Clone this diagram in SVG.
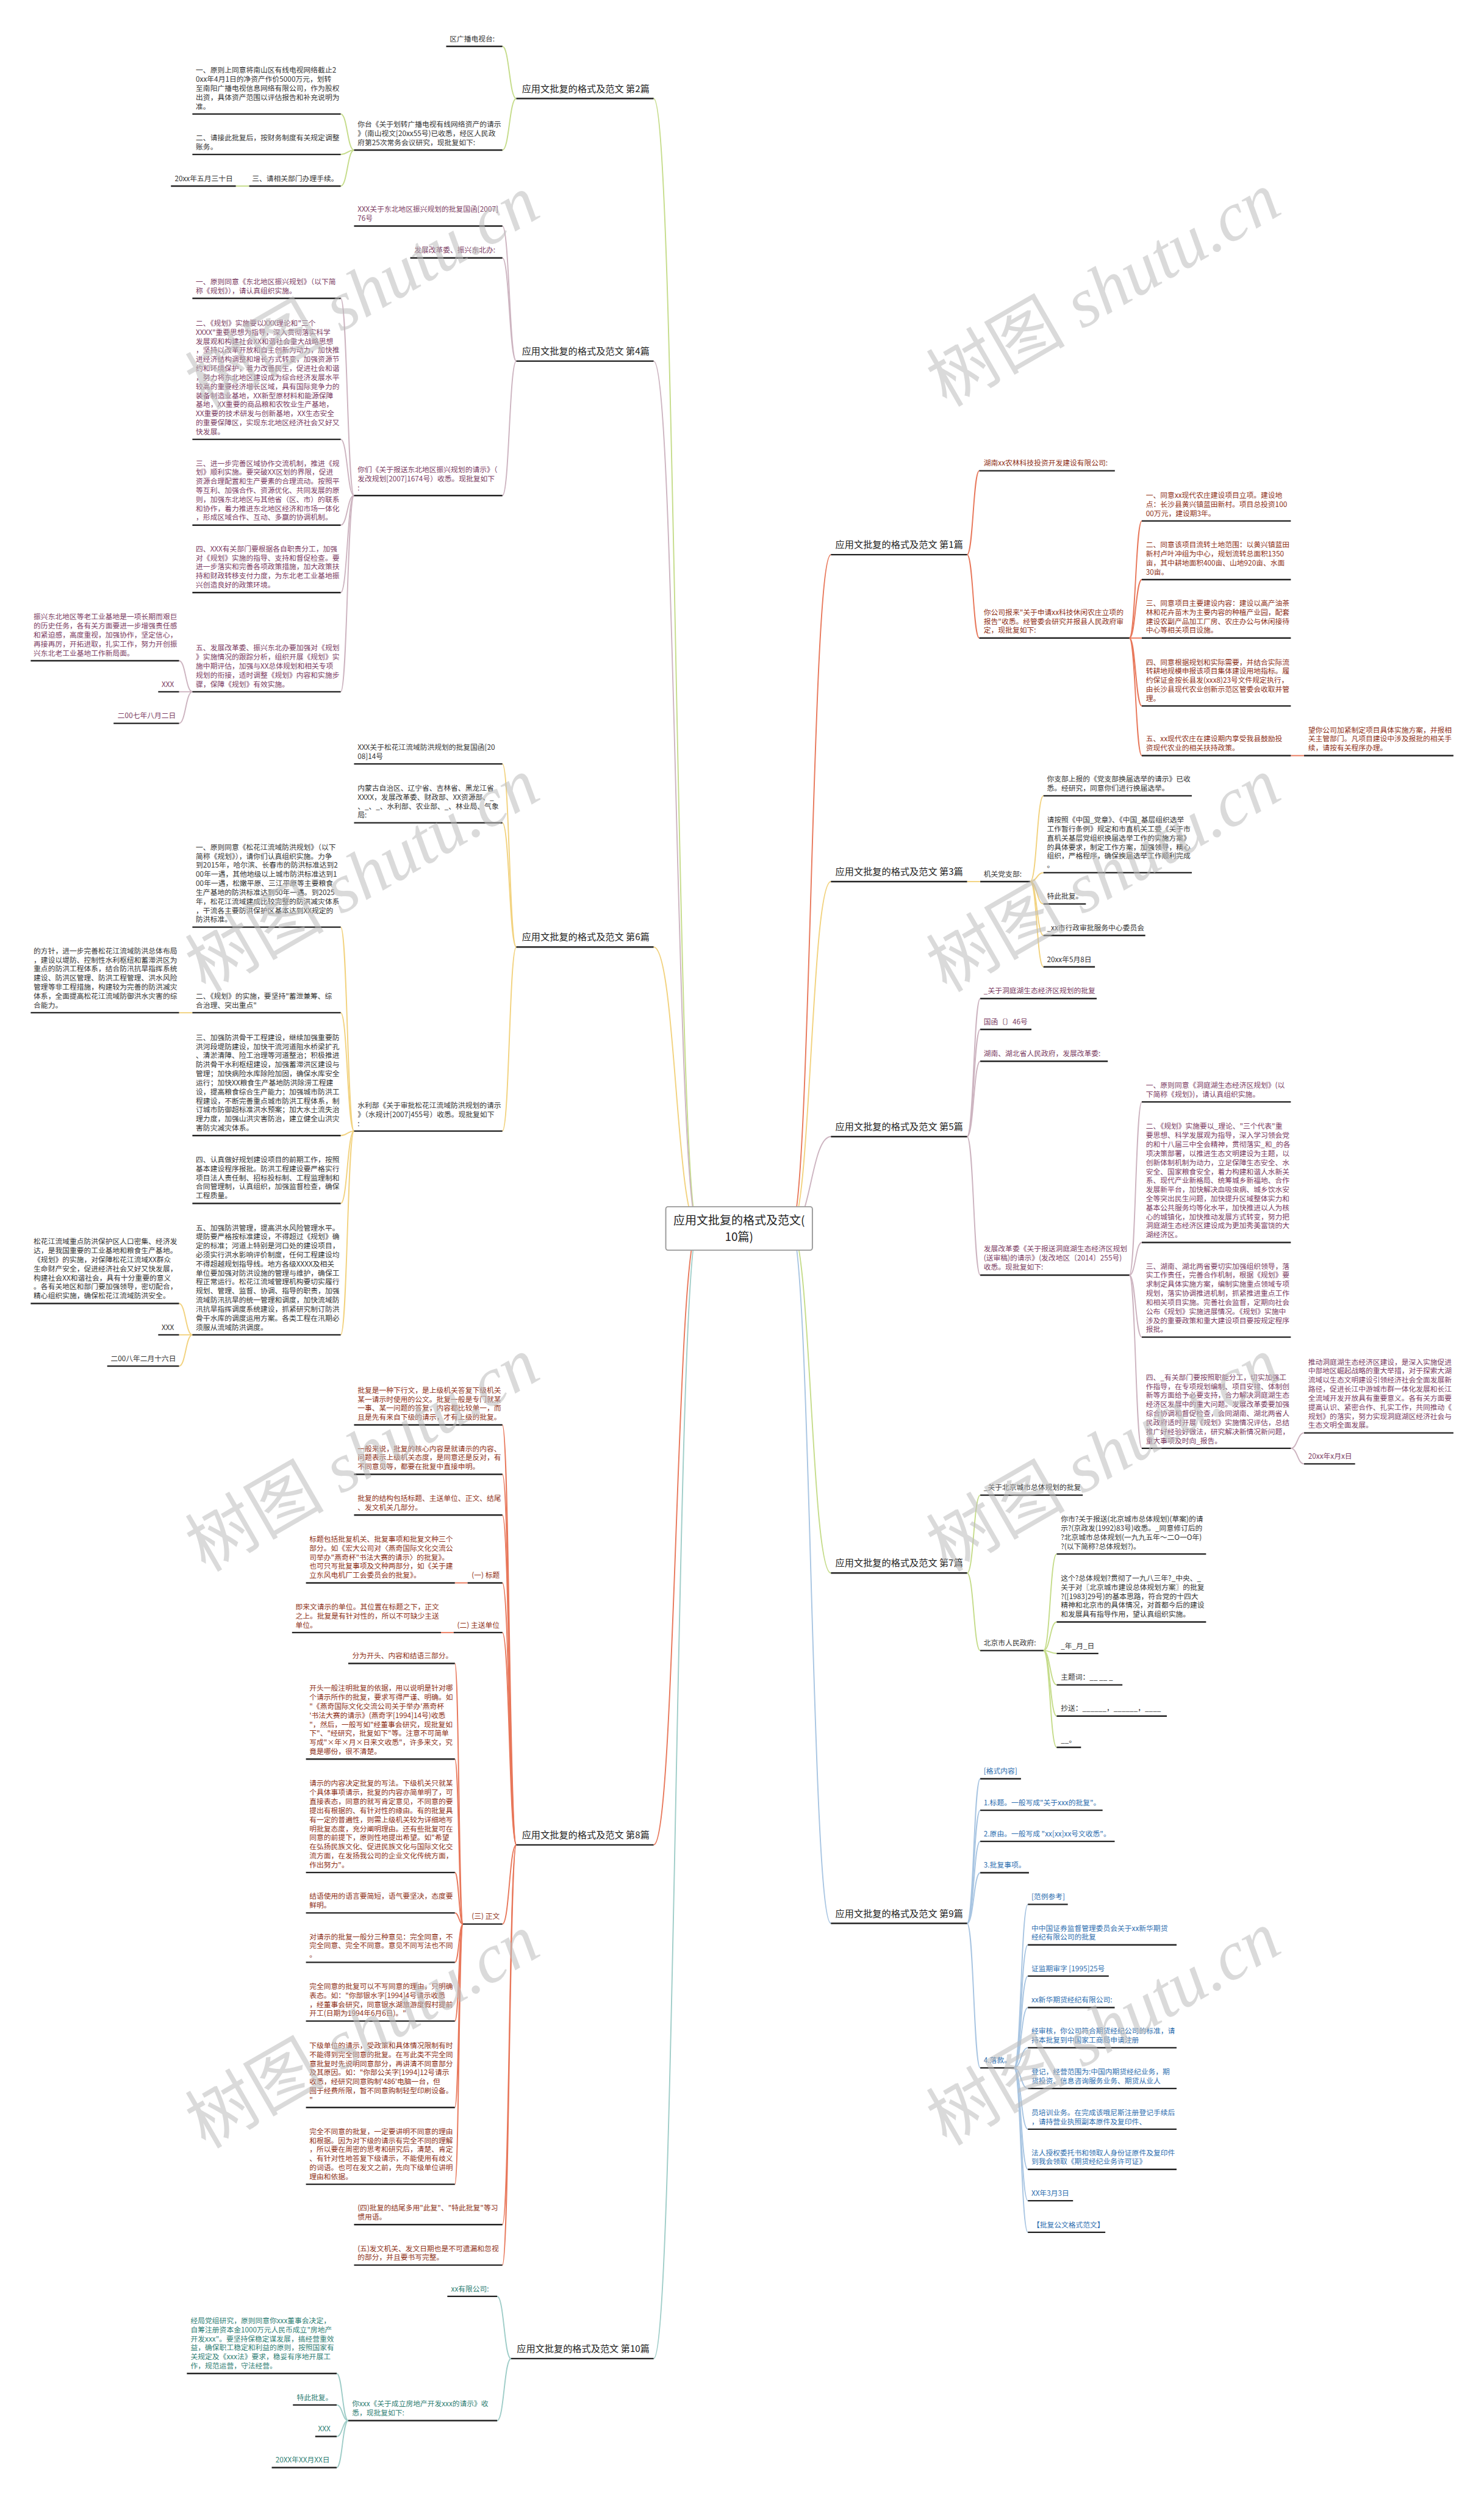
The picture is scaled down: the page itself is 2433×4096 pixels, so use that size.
<svg xmlns="http://www.w3.org/2000/svg" width="2433" height="4096" viewBox="0 0 2433 4096">
<style>
text{font-family:"Noto Sans CJK SC","Noto Sans",sans-serif;font-size:12.4px;fill:#333}
.lbl{font-size:16px;fill:#222}
.ctr{font-size:20px;fill:#222}
.u{stroke:#222;stroke-width:2.5}
.cp{fill:#7b3b62}.cr{fill:#8e2f16}.ct{fill:#2f8074}.cb{fill:#2d6eaf}
.k2{fill:none;stroke:#c5dc8a;stroke-width:2}
.k4{fill:none;stroke:#cdb4c0;stroke-width:2}
.k6{fill:none;stroke:#f2d27e;stroke-width:2}
.k8{fill:none;stroke:#e8775a;stroke-width:2}
.k10{fill:none;stroke:#9fcdc8;stroke-width:2}
.k9{fill:none;stroke:#a8c5e2;stroke-width:2}
.wm{font-size:120px;fill:#bdbdbd;opacity:0.55}
.wm tspan.e{font-family:"Liberation Serif",serif;font-style:italic}
</style>
<rect width="2433" height="4096" fill="#fff"/>
<g transform="scale(0.95)">
<g id="connectors">
<path class="k2" d="M1205 2118 C1166.5 2118 1166.5 170 1128 170"/>
<path class="k4" d="M1205 2118 C1166.5 2118 1166.5 623 1128 623"/>
<path class="k6" d="M1205 2118 C1166.5 2118 1166.5 1634 1128 1634"/>
<path class="k8" d="M1205 2118 C1166.5 2118 1166.5 3183 1128 3183"/>
<path class="k10" d="M1205 2118 C1166.5 2118 1166.5 4069.4 1128 4069.4"/>
<path class="k8" d="M1365 2118 C1399.5 2118 1399.5 957 1434 957"/>
<path class="k6" d="M1365 2118 C1399.5 2118 1399.5 1521 1434 1521"/>
<path class="k4" d="M1365 2118 C1399.5 2118 1399.5 1961 1434 1961"/>
<path class="k2" d="M1365 2118 C1399.5 2118 1399.5 2714 1434 2714"/>
<path class="k9" d="M1365 2118 C1399.5 2118 1399.5 3318.4 1434 3318.4"/>
<!-- 2 -->
<path class="k2" d="M891 170 C879 170 879 80 867 80"/>
<path class="k2" d="M891 170 C879 170 879 259 867 259"/>
<path class="k2" d="M611 259 C599.5 259 599.5 196.7 588 196.7"/>
<path class="k2" d="M611 259 C599.5 259 599.5 266.5 588 266.5"/>
<path class="k2" d="M611 259 C599.5 259 599.5 321 588 321"/>
<path class="k2" d="M430 321 L407 321"/>
<!-- 4 -->
<path class="k4" d="M891 623 C879 623 879 390 867 390"/>
<path class="k4" d="M891 623 C879 623 879 445 867 445"/>
<path class="k4" d="M891 623 C879 623 879 855 867 855"/>
<path class="k4" d="M611 855 C599.5 855 599.5 514.7 588 514.7"/>
<path class="k4" d="M611 855 C599.5 855 599.5 758 588 758"/>
<path class="k4" d="M611 855 C599.5 855 599.5 906 588 906"/>
<path class="k4" d="M611 855 C599.5 855 599.5 1022.4 588 1022.4"/>
<path class="k4" d="M611 855 C599.5 855 599.5 1193.5 588 1193.5"/>
<path class="k4" d="M332 1193.5 C320.5 1193.5 320.5 1140 309 1140"/>
<path class="k4" d="M332 1193.5 L309 1193.5"/>
<path class="k4" d="M332 1193.5 C320.5 1193.5 320.5 1248 309 1248"/>
<!-- 6 -->
<path class="k6" d="M891 1634 C879 1634 879 1318 867 1318"/>
<path class="k6" d="M891 1634 C879 1634 879 1419.6 867 1419.6"/>
<path class="k6" d="M891 1634 C879 1634 879 1951.4 867 1951.4"/>
<path class="k6" d="M611 1951.4 C599.5 1951.4 599.5 1599.6 588 1599.6"/>
<path class="k6" d="M611 1951.4 C599.5 1951.4 599.5 1747.3 588 1747.3"/>
<path class="k6" d="M611 1951.4 C599.5 1951.4 599.5 1959.2 588 1959.2"/>
<path class="k6" d="M611 1951.4 C599.5 1951.4 599.5 2076.3 588 2076.3"/>
<path class="k6" d="M611 1951.4 C599.5 1951.4 599.5 2303 588 2303"/>
<path class="k6" d="M332 1747.3 L309 1747.3"/>
<path class="k6" d="M332 2303 C320.5 2303 320.5 2249 309 2249"/>
<path class="k6" d="M332 2303 L309 2303"/>
<path class="k6" d="M332 2303 C320.5 2303 320.5 2357 309 2357"/>
<!-- 8 -->
<path class="k8" d="M891 3183 C879 3183 879 2458.4 867 2458.4"/>
<path class="k8" d="M891 3183 C879 3183 879 2543.7 867 2543.7"/>
<path class="k8" d="M891 3183 C879 3183 879 2613.9 867 2613.9"/>
<path class="k8" d="M891 3183 C879 3183 879 2731 867 2731"/>
<path class="k8" d="M891 3183 C879 3183 879 2816.7 867 2816.7"/>
<path class="k8" d="M891 3183 C879 3183 879 3319.6 867 3319.6"/>
<path class="k8" d="M891 3183 C879 3183 879 3838.2 867 3838.2"/>
<path class="k8" d="M891 3183 C879 3183 879 3908 867 3908"/>
<path class="k8" d="M807 2731 L785 2731"/>
<path class="k8" d="M783 2816.7 L761 2816.7"/>
<path class="k8" d="M799 3319.6 C792 3319.6 792 2870 785 2870"/>
<path class="k8" d="M799 3319.6 C792 3319.6 792 3035 785 3035"/>
<path class="k8" d="M799 3319.6 C792 3319.6 792 3230.6 785 3230.6"/>
<path class="k8" d="M799 3319.6 C792 3319.6 792 3300.4 785 3300.4"/>
<path class="k8" d="M799 3319.6 C792 3319.6 792 3385.7 785 3385.7"/>
<path class="k8" d="M799 3319.6 C792 3319.6 792 3487 785 3487"/>
<path class="k8" d="M799 3319.6 C792 3319.6 792 3636 785 3636"/>
<path class="k8" d="M799 3319.6 C792 3319.6 792 3768.6 785 3768.6"/>
<!-- 10 -->
<path class="k10" d="M882 4069.4 C870 4069.4 870 3962 858 3962"/>
<path class="k10" d="M882 4069.4 C870 4069.4 870 4176.3 858 4176.3"/>
<path class="k10" d="M601 4176.3 C591 4176.3 591 4095 581 4095"/>
<path class="k10" d="M601 4176.3 C591 4176.3 591 4149.3 581 4149.3"/>
<path class="k10" d="M601 4176.3 C591 4176.3 591 4203.7 581 4203.7"/>
<path class="k10" d="M601 4176.3 C591 4176.3 591 4257.4 581 4257.4"/>
<!-- 1 -->
<path class="k8" d="M1669 957 C1679.5 957 1679.5 812.2 1690 812.2"/>
<path class="k8" d="M1669 957 C1679.5 957 1679.5 1100.8 1690 1100.8"/>
<path class="k8" d="M1949 1100.8 C1959.8 1100.8 1959.8 898.8 1970.5 898.8"/>
<path class="k8" d="M1949 1100.8 C1959.8 1100.8 1959.8 1000 1970.5 1000"/>
<path class="k8" d="M1949 1100.8 L1970.5 1100.8"/>
<path class="k8" d="M1949 1100.8 C1959.8 1100.8 1959.8 1218 1970.5 1218"/>
<path class="k8" d="M1949 1100.8 C1959.8 1100.8 1959.8 1303.7 1970.5 1303.7"/>
<path class="k8" d="M2227.7 1303.7 L2250.5 1303.7"/>
<!-- 3 -->
<path class="k6" d="M1669 1521 L1691.7 1521"/>
<path class="k6" d="M1778 1521 C1789.4 1521 1789.4 1373 1800.8 1373"/>
<path class="k6" d="M1778 1521 C1789.4 1521 1789.4 1505.7 1800.8 1505.7"/>
<path class="k6" d="M1778 1521 C1789.4 1521 1789.4 1559.6 1800.8 1559.6"/>
<path class="k6" d="M1778 1521 C1789.4 1521 1789.4 1613.9 1800.8 1613.9"/>
<path class="k6" d="M1778 1521 C1789.4 1521 1789.4 1668.2 1800.8 1668.2"/>
<!-- 5 -->
<path class="k4" d="M1669 1961 C1680.4 1961 1680.4 1722.9 1691.7 1722.9"/>
<path class="k4" d="M1669 1961 C1680.4 1961 1680.4 1776 1691.7 1776"/>
<path class="k4" d="M1669 1961 C1680.4 1961 1680.4 1831 1691.7 1831"/>
<path class="k4" d="M1669 1961 C1680.4 1961 1680.4 2200 1691.7 2200"/>
<path class="k4" d="M1949 2200 C1959.8 2200 1959.8 1901.2 1970.5 1901.2"/>
<path class="k4" d="M1949 2200 C1959.8 2200 1959.8 2143.7 1970.5 2143.7"/>
<path class="k4" d="M1949 2200 C1959.8 2200 1959.8 2307 1970.5 2307"/>
<path class="k4" d="M1949 2200 C1959.8 2200 1959.8 2498.8 1970.5 2498.8"/>
<path class="k4" d="M2227.7 2498.8 C2239.1 2498.8 2239.1 2472.2 2250.5 2472.2"/>
<path class="k4" d="M2227.7 2498.8 C2239.1 2498.8 2239.1 2525.7 2250.5 2525.7"/>
<!-- 7 -->
<path class="k2" d="M1669 2714 C1680.4 2714 1680.4 2579.6 1691.7 2579.6"/>
<path class="k2" d="M1669 2714 C1680.4 2714 1680.4 2847.8 1691.7 2847.8"/>
<path class="k2" d="M1800.8 2847.8 C1812.2 2847.8 1812.2 2681.2 1823.6 2681.2"/>
<path class="k2" d="M1800.8 2847.8 C1812.2 2847.8 1812.2 2798.4 1823.6 2798.4"/>
<path class="k2" d="M1800.8 2847.8 C1812.2 2847.8 1812.2 2852.7 1823.6 2852.7"/>
<path class="k2" d="M1800.8 2847.8 C1812.2 2847.8 1812.2 2907 1823.6 2907"/>
<path class="k2" d="M1800.8 2847.8 C1812.2 2847.8 1812.2 2960.8 1823.6 2960.8"/>
<path class="k2" d="M1800.8 2847.8 C1812.2 2847.8 1812.2 3014.7 1823.6 3014.7"/>
<!-- 9 -->
<path class="k9" d="M1669 3318.4 C1680.4 3318.4 1680.4 3069 1691.7 3069"/>
<path class="k9" d="M1669 3318.4 C1680.4 3318.4 1680.4 3123.3 1691.7 3123.3"/>
<path class="k9" d="M1669 3318.4 C1680.4 3318.4 1680.4 3177 1691.7 3177"/>
<path class="k9" d="M1669 3318.4 C1680.4 3318.4 1680.4 3231 1691.7 3231"/>
<path class="k9" d="M1669 3318.4 C1680.4 3318.4 1680.4 3567.8 1691.7 3567.8"/>
<path class="k9" d="M1750 3567.8 C1762 3567.8 1762 3285.7 1773.9 3285.7"/>
<path class="k9" d="M1750 3567.8 C1762 3567.8 1762 3355.5 1773.9 3355.5"/>
<path class="k9" d="M1750 3567.8 C1762 3567.8 1762 3409.4 1773.9 3409.4"/>
<path class="k9" d="M1750 3567.8 C1762 3567.8 1762 3463.7 1773.9 3463.7"/>
<path class="k9" d="M1750 3567.8 C1762 3567.8 1762 3533 1773.9 3533"/>
<path class="k9" d="M1750 3567.8 C1762 3567.8 1762 3603.3 1773.9 3603.3"/>
<path class="k9" d="M1750 3567.8 C1762 3567.8 1762 3673.5 1773.9 3673.5"/>
<path class="k9" d="M1750 3567.8 C1762 3567.8 1762 3742.9 1773.9 3742.9"/>
<path class="k9" d="M1750 3567.8 C1762 3567.8 1762 3797 1773.9 3797"/>
<path class="k9" d="M1750 3567.8 C1762 3567.8 1762 3851.4 1773.9 3851.4"/>
</g>

<g id="center"><rect x="1149" y="2082" width="253" height="75" rx="4" fill="#fff" stroke="#999" stroke-width="2"/>
<text class="ctr" x="1275.5" y="2113" text-anchor="middle">应用文批复的格式及范文(<tspan x="1275.5" dy="28">10篇)</tspan></text></g>

<!-- labels -->
<g id="L2"><text class="lbl" x="1121" y="158.5" text-anchor="end">应用文批复的格式及范文 第2篇</text><line class="u" x1="891" y1="170" x2="1128" y2="170"/></g>
<g id="L4"><text class="lbl" x="1121" y="611.5" text-anchor="end">应用文批复的格式及范文 第4篇</text><line class="u" x1="891" y1="623" x2="1128" y2="623"/></g>
<g id="L6"><text class="lbl" x="1121" y="1622.5" text-anchor="end">应用文批复的格式及范文 第6篇</text><line class="u" x1="891" y1="1634" x2="1128" y2="1634"/></g>
<g id="L8"><text class="lbl" x="1121" y="3171.5" text-anchor="end">应用文批复的格式及范文 第8篇</text><line class="u" x1="891" y1="3183" x2="1128" y2="3183"/></g>
<g id="L10"><text class="lbl" x="1121" y="4058" text-anchor="end">应用文批复的格式及范文 第10篇</text><line class="u" x1="882" y1="4069.4" x2="1128" y2="4069.4"/></g>
<g id="L1"><text class="lbl" x="1662" y="945.5" text-anchor="end">应用文批复的格式及范文 第1篇</text><line class="u" x1="1434" y1="957" x2="1669" y2="957"/></g>
<g id="L3"><text class="lbl" x="1662" y="1509.5" text-anchor="end">应用文批复的格式及范文 第3篇</text><line class="u" x1="1434" y1="1521" x2="1669" y2="1521"/></g>
<g id="L5"><text class="lbl" x="1662" y="1949.5" text-anchor="end">应用文批复的格式及范文 第5篇</text><line class="u" x1="1434" y1="1961" x2="1669" y2="1961"/></g>
<g id="L7"><text class="lbl" x="1662" y="2702.5" text-anchor="end">应用文批复的格式及范文 第7篇</text><line class="u" x1="1434" y1="2714" x2="1669" y2="2714"/></g>
<g id="L9"><text class="lbl" x="1662" y="3307" text-anchor="end">应用文批复的格式及范文 第9篇</text><line class="u" x1="1434" y1="3318.4" x2="1669" y2="3318.4"/></g>

<!-- 第2篇 -->
<g id="n2a"><text x="776" y="71.3">区广播电视台:</text><line class="u" x1="770" y1="80" x2="867" y2="80"/></g>
<g id="n2b"><text x="617" y="219.1"><tspan x="617">你台《关于划转广播电视有线网络资产的请示</tspan><tspan x="617" dy="15.6">》(南山视文[20xx55号)已收悉，经区人民政</tspan><tspan x="617" dy="15.6">府第25次常务会议研究，现批复如下:</tspan></text><line class="u" x1="611" y1="259" x2="867" y2="259"/></g>
<g id="n2b1"><text x="338" y="125.6"><tspan x="338">一、原则上同意将南山区有线电视网络截止2</tspan><tspan x="338" dy="15.6">0xx年4月1日的净资产作价5000万元，划转</tspan><tspan x="338" dy="15.6">至南阳广播电视信息网络有限公司，作为股权</tspan><tspan x="338" dy="15.6">出资，具体资产范围以评估报告和补充说明为</tspan><tspan x="338" dy="15.6">准。</tspan></text><line class="u" x1="332" y1="196.7" x2="588" y2="196.7"/></g>
<g id="n2b2"><text x="338" y="242.2"><tspan x="338">二、请接此批复后，按财务制度有关规定调整</tspan><tspan x="338" dy="15.6">账务。</tspan></text><line class="u" x1="332" y1="266.5" x2="588" y2="266.5"/></g>
<g id="n2b3"><text x="435" y="312.3">三、请相关部门办理手续。</text><line class="u" x1="430" y1="321" x2="588" y2="321"/></g>
<g id="n2b3a"><text x="301.5" y="312.3">20xx年五月三十日</text><line class="u" x1="295" y1="321" x2="407" y2="321"/></g>

<!-- 第4篇 -->
<g id="n4a"><text class="cp" x="617" y="365.7"><tspan x="617">XXX关于东北地区振兴规划的批复国函[2007]</tspan><tspan x="617" dy="15.6">76号</tspan></text><line class="u" x1="611" y1="390" x2="867" y2="390"/></g>
<g id="n4b"><text class="cp" x="715" y="436.3">发展改革委、振兴东北办:</text><line class="u" x1="708" y1="445" x2="867" y2="445"/></g>
<g id="n4c"><text class="cp" x="617" y="815.1"><tspan x="617">你们《关于报送东北地区振兴规划的请示》（</tspan><tspan x="617" dy="15.6">发改规划[2007]1674号）收悉。现批复如下</tspan><tspan x="617" dy="15.6">:</tspan></text><line class="u" x1="611" y1="855" x2="867" y2="855"/></g>
<g id="n4c1"><text class="cp" x="338" y="490.4"><tspan x="338">一、原则同意《东北地区振兴规划》（以下简</tspan><tspan x="338" dy="15.6">称《规划》），请认真组织实施。</tspan></text><line class="u" x1="332" y1="514.7" x2="588" y2="514.7"/></g>
<g id="n4c2"><text class="cp" x="338" y="562.1"><tspan x="338">二、《规划》实施要以XXX理论和"三个</tspan><tspan x="338" dy="15.6">XXXX"重要思想为指导，深入贯彻落实科学</tspan><tspan x="338" dy="15.6">发展观和构建社会XX和谐社会重大战略思想</tspan><tspan x="338" dy="15.6">，坚持以改革开放和自主创新为动力，加快推</tspan><tspan x="338" dy="15.6">进经济结构调整和增长方式转变，加强资源节</tspan><tspan x="338" dy="15.6">约和环境保护，着力改善民生，促进社会和谐</tspan><tspan x="338" dy="15.6">，努力将东北地区建设成为综合经济发展水平</tspan><tspan x="338" dy="15.6">较高的重要经济增长区域，具有国际竞争力的</tspan><tspan x="338" dy="15.6">装备制造业基地，XX新型原材料和能源保障</tspan><tspan x="338" dy="15.6">基地，XX重要的商品粮和农牧业生产基地，</tspan><tspan x="338" dy="15.6">XX重要的技术研发与创新基地，XX生态安全</tspan><tspan x="338" dy="15.6">的重要保障区，实现东北地区经济社会又好又</tspan><tspan x="338" dy="15.6">快发展。</tspan></text><line class="u" x1="332" y1="758" x2="588" y2="758"/></g>
<g id="n4c3"><text class="cp" x="338" y="803.7"><tspan x="338">三、进一步完善区域协作交流机制，推进《规</tspan><tspan x="338" dy="15.6">划》顺利实施。要突破XX区划的界限，促进</tspan><tspan x="338" dy="15.6">资源合理配置和生产要素的合理流动。按照平</tspan><tspan x="338" dy="15.6">等互利、加强合作、资源优化、共同发展的原</tspan><tspan x="338" dy="15.6">则，加强东北地区与其他省（区、市）的联系</tspan><tspan x="338" dy="15.6">和协作，着力推进东北地区经济和市场一体化</tspan><tspan x="338" dy="15.6">，形成区域合作、互动、多赢的协调机制。</tspan></text><line class="u" x1="332" y1="906" x2="588" y2="906"/></g>
<g id="n4c4"><text class="cp" x="338" y="951.3"><tspan x="338">四、XXX有关部门要根据各自职责分工，加强</tspan><tspan x="338" dy="15.6">对《规划》实施的指导、支持和督促检查。要</tspan><tspan x="338" dy="15.6">进一步落实和完善各项政策措施，加大政策扶</tspan><tspan x="338" dy="15.6">持和财政转移支付力度，为东北老工业基地振</tspan><tspan x="338" dy="15.6">兴创造良好的政策环境。</tspan></text><line class="u" x1="332" y1="1022.4" x2="588" y2="1022.4"/></g>
<g id="n4c5"><text class="cp" x="338" y="1122.4"><tspan x="338">五、发展改革委、振兴东北办要加强对《规划</tspan><tspan x="338" dy="15.6">》实施情况的跟踪分析，组织开展《规划》实</tspan><tspan x="338" dy="15.6">施中期评估，加强与XX总体规划和相关专项</tspan><tspan x="338" dy="15.6">规划的衔接，适时调整《规划》内容和实施步</tspan><tspan x="338" dy="15.6">骤，保障《规划》有效实施。</tspan></text><line class="u" x1="332" y1="1193.5" x2="588" y2="1193.5"/></g>
<g id="n4c5a"><text class="cp" x="58" y="1068.9"><tspan x="58">振兴东北地区等老工业基地是一项长期而艰巨</tspan><tspan x="58" dy="15.6">的历史任务，各有关方面要进一步增强责任感</tspan><tspan x="58" dy="15.6">和紧迫感，高度重视，加强协作，坚定信心，</tspan><tspan x="58" dy="15.6">再接再厉，开拓进取，扎实工作，努力开创振</tspan><tspan x="58" dy="15.6">兴东北老工业基地工作新局面。</tspan></text><line class="u" x1="53" y1="1140" x2="309" y2="1140"/></g>
<g id="n4c5b"><text class="cp" x="279" y="1184.8">XXX</text><line class="u" x1="273" y1="1193.5" x2="309" y2="1193.5"/></g>
<g id="n4c5c"><text class="cp" x="203" y="1239.3">二00七年八月二日</text><line class="u" x1="196" y1="1248" x2="309" y2="1248"/></g>

<!-- 第6篇 -->
<g id="n6a"><text x="617" y="1293.7"><tspan x="617">XXX关于松花江流域防洪规划的批复国函[20</tspan><tspan x="617" dy="15.6">08]14号</tspan></text><line class="u" x1="611" y1="1318" x2="867" y2="1318"/></g>
<g id="n6b"><text x="617" y="1364.1"><tspan x="617">内蒙古自治区、辽宁省、吉林省、黑龙江省</tspan><tspan x="617" dy="15.6">XXXX，发展改革委、财政部、XX资源部、_</tspan><tspan x="617" dy="15.6">、_、_、水利部、农业部、_、林业局、气象</tspan><tspan x="617" dy="15.6">局:</tspan></text><line class="u" x1="611" y1="1419.6" x2="867" y2="1419.6"/></g>
<g id="n6c"><text x="617" y="1911.5"><tspan x="617">水利部《关于审批松花江流域防洪规划的请示</tspan><tspan x="617" dy="15.6">》（水规计[2007]455号）收悉。现批复如下</tspan><tspan x="617" dy="15.6">:</tspan></text><line class="u" x1="611" y1="1951.4" x2="867" y2="1951.4"/></g>
<g id="n6c1"><text x="338" y="1466.1"><tspan x="338">一、原则同意《松花江流域防洪规划》（以下</tspan><tspan x="338" dy="15.6">简称《规划》），请你们认真组织实施。力争</tspan><tspan x="338" dy="15.6">到2015年，哈尔滨、长春市的防洪标准达到2</tspan><tspan x="338" dy="15.6">00年一遇，其他地级以上城市防洪标准达到1</tspan><tspan x="338" dy="15.6">00年一遇，松嫩平原、三江平原等主要粮食</tspan><tspan x="338" dy="15.6">生产基地的防洪标准达到50年一遇。到2025</tspan><tspan x="338" dy="15.6">年，松花江流域建成比较完整的防洪减灾体系</tspan><tspan x="338" dy="15.6">，干流各主要防洪保护区基本达到XX规定的</tspan><tspan x="338" dy="15.6">防洪标准。</tspan></text><line class="u" x1="332" y1="1599.6" x2="588" y2="1599.6"/></g>
<g id="n6c2"><text x="338" y="1723"><tspan x="338">二、《规划》的实施，要坚持"蓄泄兼筹、综</tspan><tspan x="338" dy="15.6">合治理、突出重点"</tspan></text><line class="u" x1="332" y1="1747.3" x2="588" y2="1747.3"/></g>
<g id="n6c2a"><text x="58" y="1645"><tspan x="58">的方针，进一步完善松花江流域防洪总体布局</tspan><tspan x="58" dy="15.6">，建设以堤防、控制性水利枢纽和蓄滞洪区为</tspan><tspan x="58" dy="15.6">重点的防洪工程体系，结合防汛抗旱指挥系统</tspan><tspan x="58" dy="15.6">建设、防洪区管理、防洪工程管理、洪水风险</tspan><tspan x="58" dy="15.6">管理等非工程措施，构建较为完善的防洪减灾</tspan><tspan x="58" dy="15.6">体系，全面提高松花江流域防御洪水灾害的综</tspan><tspan x="58" dy="15.6">合能力。</tspan></text><line class="u" x1="53" y1="1747.3" x2="309" y2="1747.3"/></g>
<g id="n6c3"><text x="338" y="1794.5"><tspan x="338">三、加强防洪骨干工程建设，继续加强重要防</tspan><tspan x="338" dy="15.6">洪河段堤防建设，加快干流河道阻水桥梁扩孔</tspan><tspan x="338" dy="15.6">、清淤清障、险工治理等河道整治；积极推进</tspan><tspan x="338" dy="15.6">防洪骨干水利枢纽建设，加强蓄滞洪区建设与</tspan><tspan x="338" dy="15.6">管理；加快病险水库除险加固，确保水库安全</tspan><tspan x="338" dy="15.6">运行；加快XX粮食生产基地防洪除涝工程建</tspan><tspan x="338" dy="15.6">设，提高粮食综合生产能力；加强城市防洪工</tspan><tspan x="338" dy="15.6">程建设，不断完善重点城市防洪工程体系，制</tspan><tspan x="338" dy="15.6">订城市防御超标准洪水预案；加大水土流失治</tspan><tspan x="338" dy="15.6">理力度，加强山洪灾害防治，建立健全山洪灾</tspan><tspan x="338" dy="15.6">害防灾减灾体系。</tspan></text><line class="u" x1="332" y1="1959.2" x2="588" y2="1959.2"/></g>
<g id="n6c4"><text x="338" y="2005.2"><tspan x="338">四、认真做好规划建设项目的前期工作，按照</tspan><tspan x="338" dy="15.6">基本建设程序报批。防洪工程建设要严格实行</tspan><tspan x="338" dy="15.6">项目法人责任制、招标投标制、工程监理制和</tspan><tspan x="338" dy="15.6">合同管理制，认真组织，加强监督检查，确保</tspan><tspan x="338" dy="15.6">工程质量。</tspan></text><line class="u" x1="332" y1="2076.3" x2="588" y2="2076.3"/></g>
<g id="n6c5"><text x="338" y="2122.7"><tspan x="338">五、加强防洪管理，提高洪水风险管理水平。</tspan><tspan x="338" dy="15.6">堤防要严格按标准建设，不得超过《规划》确</tspan><tspan x="338" dy="15.6">定的标准；河道上特别是河口处的建设项目，</tspan><tspan x="338" dy="15.6">必须实行洪水影响评价制度，任何工程建设均</tspan><tspan x="338" dy="15.6">不得超越规划指导线。地方各级XXXX及相关</tspan><tspan x="338" dy="15.6">单位要加强对防洪设施的管理与维护，确保工</tspan><tspan x="338" dy="15.6">程正常运行。松花江流域管理机构要切实履行</tspan><tspan x="338" dy="15.6">规划、管理、监督、协调、指导的职责，加强</tspan><tspan x="338" dy="15.6">流域防汛抗旱的统一管理和调度，加快流域防</tspan><tspan x="338" dy="15.6">汛抗旱指挥调度系统建设，抓紧研究制订防洪</tspan><tspan x="338" dy="15.6">骨干水库的调度运用方案。各类工程在汛期必</tspan><tspan x="338" dy="15.6">须服从流域防洪调度。</tspan></text><line class="u" x1="332" y1="2303" x2="588" y2="2303"/></g>
<g id="n6c5a"><text x="58" y="2146.7"><tspan x="58">松花江流域重点防洪保护区人口密集、经济发</tspan><tspan x="58" dy="15.6">达，是我国重要的工业基地和粮食生产基地。</tspan><tspan x="58" dy="15.6">《规划》的实施，对保障松花江流域XX群众</tspan><tspan x="58" dy="15.6">生命财产安全，促进经济社会又好又快发展，</tspan><tspan x="58" dy="15.6">构建社会XX和谐社会，具有十分重要的意义</tspan><tspan x="58" dy="15.6">。各有关地区和部门要加强领导，密切配合，</tspan><tspan x="58" dy="15.6">精心组织实施，确保松花江流域防洪安全。</tspan></text><line class="u" x1="53" y1="2249" x2="309" y2="2249"/></g>
<g id="n6c5b"><text x="279" y="2294.3">XXX</text><line class="u" x1="273" y1="2303" x2="309" y2="2303"/></g>
<g id="n6c5c"><text x="191" y="2348.3">二00八年二月十六日</text><line class="u" x1="185" y1="2357" x2="309" y2="2357"/></g>

<!-- 第8篇 -->
<g id="n8a"><text class="cr" x="617" y="2402.9"><tspan x="617">批复是一种下行文，是上级机关答复下级机关</tspan><tspan x="617" dy="15.6">某一请示时使用的公文。批复一般是专门就某</tspan><tspan x="617" dy="15.6">一事、某一问题的答复，内容都比较单一，而</tspan><tspan x="617" dy="15.6">且是先有来自下级的请示，才有上级的批复。</tspan></text><line class="u" x1="611" y1="2458.4" x2="867" y2="2458.4"/></g>
<g id="n8b"><text class="cr" x="617" y="2503.8"><tspan x="617">一般来说，批复的核心内容是就请示的内容、</tspan><tspan x="617" dy="15.6">问题表示上级机关态度，是同意还是反对，有</tspan><tspan x="617" dy="15.6">不同意见等，都要在批复中直接申明。</tspan></text><line class="u" x1="611" y1="2543.7" x2="867" y2="2543.7"/></g>
<g id="n8c"><text class="cr" x="617" y="2589.6"><tspan x="617">批复的结构包括标题、主送单位、正文、结尾</tspan><tspan x="617" dy="15.6">、发文机关几部分。</tspan></text><line class="u" x1="611" y1="2613.9" x2="867" y2="2613.9"/></g>
<g id="n8d"><text class="cr" x="814" y="2722.3">(一) 标题</text><line class="u" x1="807" y1="2731" x2="867" y2="2731"/></g>
<g id="n8d1"><text class="cr" x="534" y="2659.9"><tspan x="534">标题包括批复机关、批复事项和批复文种三个</tspan><tspan x="534" dy="15.6">部分。如《宏大公司对〈燕奇国际文化交流公</tspan><tspan x="534" dy="15.6">司举办"燕奇杯"书法大赛的请示〉的批复》。</tspan><tspan x="534" dy="15.6">也可只写批复事项及文种两部分，如《关于建</tspan><tspan x="534" dy="15.6">立东风电机厂工会委员会的批复》。</tspan></text><line class="u" x1="528" y1="2731" x2="785" y2="2731"/></g>
<g id="n8e"><text class="cr" x="789" y="2808">(二) 主送单位</text><line class="u" x1="783" y1="2816.7" x2="867" y2="2816.7"/></g>
<g id="n8e1"><text class="cr" x="510" y="2776.8"><tspan x="510">即来文请示的单位。其位置在标题之下，正文</tspan><tspan x="510" dy="15.6">之上。批复是有针对性的，所以不可缺少主送</tspan><tspan x="510" dy="15.6">单位。</tspan></text><line class="u" x1="504" y1="2816.7" x2="761" y2="2816.7"/></g>
<g id="n8f"><text class="cr" x="814" y="3310.9">(三) 正文</text><line class="u" x1="799" y1="3319.6" x2="867" y2="3319.6"/></g>
<g id="n8f1"><text class="cr" x="608" y="2861.3">分为开头、内容和结语三部分。</text><line class="u" x1="601" y1="2870" x2="785" y2="2870"/></g>
<g id="n8f2"><text class="cr" x="534" y="2917.1"><tspan x="534">开头一般注明批复的依据，用以说明是针对哪</tspan><tspan x="534" dy="15.6">个请示所作的批复，要求写得严谨、明确。如</tspan><tspan x="534" dy="15.6">"《燕奇国际文化交流公司关于举办'燕奇杯</tspan><tspan x="534" dy="15.6">'书法大赛的请示》(燕奇字[1994]14号)收悉</tspan><tspan x="534" dy="15.6">"，然后，一般写如"经董事会研究，现批复如</tspan><tspan x="534" dy="15.6">下"、"经研究，批复如下"等。注意不可简单</tspan><tspan x="534" dy="15.6">写成"×年×月×日来文收悉"，许多来文，究</tspan><tspan x="534" dy="15.6">竟是哪份，很不清楚。</tspan></text><line class="u" x1="528" y1="3035" x2="785" y2="3035"/></g>
<g id="n8f3"><text class="cr" x="534" y="3081.5"><tspan x="534">请示的内容决定批复的写法。下级机关只就某</tspan><tspan x="534" dy="15.6">个具体事项请示，批复的内容亦简单明了，可</tspan><tspan x="534" dy="15.6">直接表态，同意的就写肯定意见，不同意的要</tspan><tspan x="534" dy="15.6">提出有根据的、有针对性的缘由。有的批复具</tspan><tspan x="534" dy="15.6">有一定的普遍性，则需上级机关较为详细地写</tspan><tspan x="534" dy="15.6">明批复态度，充分阐明理由。还有些批复可在</tspan><tspan x="534" dy="15.6">同意的前提下，原则性地提出希望。如"希望</tspan><tspan x="534" dy="15.6">在弘扬民族文化、促进民族文化与国际文化交</tspan><tspan x="534" dy="15.6">流方面，在发扬我公司的企业文化传统方面，</tspan><tspan x="534" dy="15.6">作出努力"。</tspan></text><line class="u" x1="528" y1="3230.6" x2="785" y2="3230.6"/></g>
<g id="n8f4"><text class="cr" x="534" y="3276.1"><tspan x="534">结语使用的语言要简短，语气要坚决，态度要</tspan><tspan x="534" dy="15.6">鲜明。</tspan></text><line class="u" x1="528" y1="3300.4" x2="785" y2="3300.4"/></g>
<g id="n8f5"><text class="cr" x="534" y="3345.8"><tspan x="534">对请示的批复一般分三种意见：完全同意，不</tspan><tspan x="534" dy="15.6">完全同意、完全不同意。意见不同写法也不同</tspan><tspan x="534" dy="15.6">。</tspan></text><line class="u" x1="528" y1="3385.7" x2="785" y2="3385.7"/></g>
<g id="n8f6"><text class="cr" x="534" y="3431.5"><tspan x="534">完全同意的批复可以不写同意的理由，只明确</tspan><tspan x="534" dy="15.6">表态。如："你部银水字[1994]4号请示收悉</tspan><tspan x="534" dy="15.6">，经董事会研究，同意银水湖旅游度假村提前</tspan><tspan x="534" dy="15.6">开工(日期为1994年6月6日)。"</tspan></text><line class="u" x1="528" y1="3487" x2="785" y2="3487"/></g>
<g id="n8f7"><text class="cr" x="534" y="3533.7"><tspan x="534">下级单位的请示，受政策和具体情况限制有时</tspan><tspan x="534" dy="15.6">不能得到完全同意的批复。在写此类不完全同</tspan><tspan x="534" dy="15.6">意批复时先说明同意部分，再讲清不同意部分</tspan><tspan x="534" dy="15.6">及其原因。如："你部公关字[1994]12号请示</tspan><tspan x="534" dy="15.6">收悉，经研究同意购制'486'电脑一台，但</tspan><tspan x="534" dy="15.6">囿于经费所限，暂不同意购制轻型印刷设备。</tspan><tspan x="534" dy="15.6">"</tspan></text><line class="u" x1="528" y1="3636" x2="785" y2="3636"/></g>
<g id="n8f8"><text class="cr" x="534" y="3681.9"><tspan x="534">完全不同意的批复，一定要讲明不同意的理由</tspan><tspan x="534" dy="15.6">和根据。因为对下级的请示有完全不同的理解</tspan><tspan x="534" dy="15.6">，所以要在周密的思考和研究后，清楚、肯定</tspan><tspan x="534" dy="15.6">、有针对性地答复下级请示，不能使用有歧义</tspan><tspan x="534" dy="15.6">的词语。也可在发文之前，先向下级单位讲明</tspan><tspan x="534" dy="15.6">理由和依据。</tspan></text><line class="u" x1="528" y1="3768.6" x2="785" y2="3768.6"/></g>
<g id="n8g"><text class="cr" x="617" y="3813.9"><tspan x="617">(四)批复的结尾多用"此复"、"特此批复"等习</tspan><tspan x="617" dy="15.6">惯用语。</tspan></text><line class="u" x1="611" y1="3838.2" x2="867" y2="3838.2"/></g>
<g id="n8h"><text class="cr" x="617" y="3883.7"><tspan x="617">(五)发文机关、发文日期也是不可遗漏和忽视</tspan><tspan x="617" dy="15.6">的部分，并且要书写完整。</tspan></text><line class="u" x1="611" y1="3908" x2="867" y2="3908"/></g>

<!-- 第10篇 -->
<g id="n10a"><text class="ct" x="778.5" y="3953.3">xx有限公司:</text><line class="u" x1="772" y1="3962" x2="858" y2="3962"/></g>
<g id="n10b"><text class="ct" x="607.6" y="4152"><tspan x="607.6">你xxx《关于成立房地产开发xxx的请示》收</tspan><tspan x="607.6" dy="15.6">悉，现批复如下:</tspan></text><line class="u" x1="601" y1="4176.3" x2="858" y2="4176.3"/></g>
<g id="n10b1"><text class="ct" x="329" y="4008.3"><tspan x="329">经局党组研究，原则同意你xxx董事会决定，</tspan><tspan x="329" dy="15.6">自筹注册资本金1000万元人民币成立"房地产</tspan><tspan x="329" dy="15.6">开发xxx"。要坚持保稳定谋发展，搞经营重效</tspan><tspan x="329" dy="15.6">益，确保职工稳定和利益的原则，按照国家有</tspan><tspan x="329" dy="15.6">关规定及《xxx法》要求，稳妥有序地开展工</tspan><tspan x="329" dy="15.6">作，规范运营，守法经营。</tspan></text><line class="u" x1="322.5" y1="4095" x2="581" y2="4095"/></g>
<g id="n10b2"><text class="ct" x="512" y="4140.6">特此批复。</text><line class="u" x1="505.5" y1="4149.3" x2="581" y2="4149.3"/></g>
<g id="n10b3"><text class="ct" x="549" y="4195">XXX</text><line class="u" x1="544" y1="4203.7" x2="581" y2="4203.7"/></g>
<g id="n10b4"><text class="ct" x="475.6" y="4248.7">20XX年XX月XX日</text><line class="u" x1="469" y1="4257.4" x2="581" y2="4257.4"/></g>

<!-- 第1篇 -->
<g id="n1a"><text class="cr" x="1697.7" y="803.5">湖南xx农林科技投资开发建设有限公司:</text><line class="u" x1="1690" y1="812.2" x2="1924" y2="812.2"/></g>
<g id="n1b"><text class="cr" x="1697.7" y="1060.9"><tspan x="1697.7">你公司报来"关于申请xx科技休闲农庄立项的</tspan><tspan x="1697.7" dy="15.6">报告"收悉。经管委会研究并报县人民政府审</tspan><tspan x="1697.7" dy="15.6">定，现批复如下:</tspan></text><line class="u" x1="1690" y1="1100.8" x2="1949" y2="1100.8"/></g>
<g id="n1b1"><text class="cr" x="1977.7" y="859"><tspan x="1977.7">一、同意xx现代农庄建设项目立项。建设地</tspan><tspan x="1977.7" dy="15.6">点：长沙县黄兴镇蓝田新村。项目总投资100</tspan><tspan x="1977.7" dy="15.6">00万元，建设期3年。</tspan></text><line class="u" x1="1970.5" y1="898.8" x2="2227.7" y2="898.8"/></g>
<g id="n1b2"><text class="cr" x="1977.7" y="944.5"><tspan x="1977.7">二、同意该项目流转土地范围：以黄兴镇蓝田</tspan><tspan x="1977.7" dy="15.6">新村卢叶冲组为中心，规划流转总面积1350</tspan><tspan x="1977.7" dy="15.6">亩，其中耕地面积400亩、山地920亩、水面</tspan><tspan x="1977.7" dy="15.6">30亩。</tspan></text><line class="u" x1="1970.5" y1="1000" x2="2227.7" y2="1000"/></g>
<g id="n1b3"><text class="cr" x="1977.7" y="1045.3"><tspan x="1977.7">三、同意项目主要建设内容：建设以高产油茶</tspan><tspan x="1977.7" dy="15.6">林和花卉苗木为主要内容的种植产业园，配套</tspan><tspan x="1977.7" dy="15.6">建设农副产品加工厂房、农庄办公与休闲接待</tspan><tspan x="1977.7" dy="15.6">中心等相关项目设施。</tspan></text><line class="u" x1="1970.5" y1="1100.8" x2="2227.7" y2="1100.8"/></g>
<g id="n1b4"><text class="cr" x="1977.7" y="1146.9"><tspan x="1977.7">四、同意根据规划和实际需要，并结合实际流</tspan><tspan x="1977.7" dy="15.6">转耕地规模申报该项目集体建设用地指标。履</tspan><tspan x="1977.7" dy="15.6">约保证金按长县发(xxx8)23号文件规定执行，</tspan><tspan x="1977.7" dy="15.6">由长沙县现代农业创新示范区管委会收取并管</tspan><tspan x="1977.7" dy="15.6">理。</tspan></text><line class="u" x1="1970.5" y1="1218" x2="2227.7" y2="1218"/></g>
<g id="n1b5"><text class="cr" x="1977.7" y="1279.4"><tspan x="1977.7">五、xx现代农庄在建设期内享受我县鼓励投</tspan><tspan x="1977.7" dy="15.6">资现代农业的相关扶持政策。</tspan></text><line class="u" x1="1970.5" y1="1303.7" x2="2227.7" y2="1303.7"/></g>
<g id="n1b5a"><text class="cr" x="2257.7" y="1263.8"><tspan x="2257.7">望你公司加紧制定项目具体实施方案，并报相</tspan><tspan x="2257.7" dy="15.6">关主管部门。凡项目建设中涉及报批的相关手</tspan><tspan x="2257.7" dy="15.6">续，请按有关程序办理。</tspan></text><line class="u" x1="2250.5" y1="1303.7" x2="2508.3" y2="1303.7"/></g>

<!-- 第3篇 -->
<g id="n3a"><text x="1697.7" y="1512.3">机关党支部:</text><line class="u" x1="1691.7" y1="1521" x2="1778" y2="1521"/></g>
<g id="n3a1"><text x="1806.8" y="1348.7"><tspan x="1806.8">你支部上报的《党支部换届选举的请示》已收</tspan><tspan x="1806.8" dy="15.6">悉。经研究，同意你们进行换届选举。</tspan></text><line class="u" x1="1800.8" y1="1373" x2="2056.8" y2="1373"/></g>
<g id="n3a2"><text x="1806.8" y="1419"><tspan x="1806.8">请按照《中国_党章》、《中国_基层组织选举</tspan><tspan x="1806.8" dy="15.6">工作暂行条例》规定和市直机关工委《关于市</tspan><tspan x="1806.8" dy="15.6">直机关基层党组织换届选举工作的实施方案》</tspan><tspan x="1806.8" dy="15.6">的具体要求，制定工作方案，加强领导，精心</tspan><tspan x="1806.8" dy="15.6">组织，严格程序，确保换届选举工作顺利完成</tspan><tspan x="1806.8" dy="15.6">。</tspan></text><line class="u" x1="1800.8" y1="1505.7" x2="2056.8" y2="1505.7"/></g>
<g id="n3a3"><text x="1806.8" y="1550.9">特此批复。</text><line class="u" x1="1800.8" y1="1559.6" x2="1874" y2="1559.6"/></g>
<g id="n3a4"><text x="1806.8" y="1605.2">_xx市行政审批服务中心委员会</text><line class="u" x1="1800.8" y1="1613.9" x2="1976.5" y2="1613.9"/></g>
<g id="n3a5"><text x="1806.8" y="1659.5">20xx年5月8日</text><line class="u" x1="1800.8" y1="1668.2" x2="1889.6" y2="1668.2"/></g>

<!-- 第5篇 -->
<g id="n5a"><text class="cp" x="1697.7" y="1714.2">_关于洞庭湖生态经济区规划的批复</text><line class="u" x1="1691.7" y1="1722.9" x2="1892.6" y2="1722.9"/></g>
<g id="n5b"><text class="cp" x="1697.7" y="1767.3">国函〔〕46号</text><line class="u" x1="1691.7" y1="1776" x2="1780" y2="1776"/></g>
<g id="n5c"><text class="cp" x="1697.7" y="1822.3">湖南、湖北省人民政府，发展改革委:</text><line class="u" x1="1691.7" y1="1831" x2="1911.8" y2="1831"/></g>
<g id="n5d"><text class="cp" x="1697.7" y="2159.1"><tspan x="1697.7">发展改革委《关于报送洞庭湖生态经济区规划</tspan><tspan x="1697.7" dy="15.6">(送审稿)的请示》(发改地区〔2014〕255号)</tspan><tspan x="1697.7" dy="15.6">收悉。现批复如下:</tspan></text><line class="u" x1="1691.7" y1="2200" x2="1949" y2="2200"/></g>
<g id="n5d1"><text class="cp" x="1977.7" y="1876.9"><tspan x="1977.7">一、原则同意《洞庭湖生态经济区规划》(以</tspan><tspan x="1977.7" dy="15.6">下简称《规划》)，请认真组织实施。</tspan></text><line class="u" x1="1970.5" y1="1901.2" x2="2227.7" y2="1901.2"/></g>
<g id="n5d2"><text class="cp" x="1977.7" y="1947.8"><tspan x="1977.7">二、《规划》实施要以_理论、"三个代表"重</tspan><tspan x="1977.7" dy="15.6">要思想、科学发展观为指导，深入学习领会党</tspan><tspan x="1977.7" dy="15.6">的和十八届三中全会精神，贯彻落实_和_的各</tspan><tspan x="1977.7" dy="15.6">项决策部署，以推进生态文明建设为主题，以</tspan><tspan x="1977.7" dy="15.6">创新体制机制为动力，立足保障生态安全、水</tspan><tspan x="1977.7" dy="15.6">安全、国家粮食安全，着力构建和谐人水新关</tspan><tspan x="1977.7" dy="15.6">系、现代产业新格局、统筹城乡新福地、合作</tspan><tspan x="1977.7" dy="15.6">发展新平台，加快解决血吸虫病、城乡饮水安</tspan><tspan x="1977.7" dy="15.6">全等突出民生问题，加快提升区域整体实力和</tspan><tspan x="1977.7" dy="15.6">基本公共服务均等化水平，加快推进以人为核</tspan><tspan x="1977.7" dy="15.6">心的城镇化，加快推动发展方式转变，努力把</tspan><tspan x="1977.7" dy="15.6">洞庭湖生态经济区建设成为更加秀美富饶的大</tspan><tspan x="1977.7" dy="15.6">湖经济区。</tspan></text><line class="u" x1="1970.5" y1="2143.7" x2="2227.7" y2="2143.7"/></g>
<g id="n5d3"><text class="cp" x="1977.7" y="2189.1"><tspan x="1977.7">三、湖南、湖北两省要切实加强组织领导，落</tspan><tspan x="1977.7" dy="15.6">实工作责任，完善合作机制，根据《规划》要</tspan><tspan x="1977.7" dy="15.6">求制定具体实施方案，编制实施重点领域专项</tspan><tspan x="1977.7" dy="15.6">规划，落实协调推进机制，抓紧推进重点工作</tspan><tspan x="1977.7" dy="15.6">和相关项目实施。完善社会监督，定期向社会</tspan><tspan x="1977.7" dy="15.6">公布《规划》实施进展情况。《规划》实施中</tspan><tspan x="1977.7" dy="15.6">涉及的重要政策和重大建设项目要按规定程序</tspan><tspan x="1977.7" dy="15.6">报批。</tspan></text><line class="u" x1="1970.5" y1="2307" x2="2227.7" y2="2307"/></g>
<g id="n5d4"><text class="cp" x="1977.7" y="2380.9"><tspan x="1977.7">四、_有关部门要按照职能分工，切实加强工</tspan><tspan x="1977.7" dy="15.6">作指导，在专项规划编制、项目安排、体制创</tspan><tspan x="1977.7" dy="15.6">新等方面给予必要支持，合力解决洞庭湖生态</tspan><tspan x="1977.7" dy="15.6">经济区发展中的重大问题。发展改革委要加强</tspan><tspan x="1977.7" dy="15.6">综合协调和督促检查，会同湖南、湖北两省人</tspan><tspan x="1977.7" dy="15.6">民政府适时开展《规划》实施情况评估，总结</tspan><tspan x="1977.7" dy="15.6">推广好经验好做法，研究解决新情况新问题，</tspan><tspan x="1977.7" dy="15.6">重大事项及时向_报告。</tspan></text><line class="u" x1="1970.5" y1="2498.8" x2="2227.7" y2="2498.8"/></g>
<g id="n5d4a"><text class="cp" x="2257.7" y="2354.3"><tspan x="2257.7">推动洞庭湖生态经济区建设，是深入实施促进</tspan><tspan x="2257.7" dy="15.6">中部地区崛起战略的重大举措，对于探索大湖</tspan><tspan x="2257.7" dy="15.6">流域以生态文明建设引领经济社会全面发展新</tspan><tspan x="2257.7" dy="15.6">路径，促进长江中游城市群一体化发展和长江</tspan><tspan x="2257.7" dy="15.6">全流域开发开放具有重要意义。各有关方面要</tspan><tspan x="2257.7" dy="15.6">提高认识、紧密合作、扎实工作，共同推动《</tspan><tspan x="2257.7" dy="15.6">规划》的落实，努力实现洞庭湖区经济社会与</tspan><tspan x="2257.7" dy="15.6">生态文明全面发展。</tspan></text><line class="u" x1="2250.5" y1="2472.2" x2="2508.3" y2="2472.2"/></g>
<g id="n5d4b"><text class="cp" x="2257.7" y="2517">20xx年x月x日</text><line class="u" x1="2250.5" y1="2525.7" x2="2338.6" y2="2525.7"/></g>

<!-- 第7篇 -->
<g id="n7a"><text x="1697.7" y="2570.9">_关于北京城市总体规划的批复</text><line class="u" x1="1691.7" y1="2579.6" x2="1868.6" y2="2579.6"/></g>
<g id="n7b"><text x="1697.7" y="2839.1">北京市人民政府:</text><line class="u" x1="1691.7" y1="2847.8" x2="1800.8" y2="2847.8"/></g>
<g id="n7b1"><text x="1830.8" y="2625.7"><tspan x="1830.8">你市?关于报送(北京城市总体规划)(草案)的请</tspan><tspan x="1830.8" dy="15.6">示?(京政发(1992)83号)收悉。_同意修订后的</tspan><tspan x="1830.8" dy="15.6">?北京城市总体规划(一九九五年～二O一O年)</tspan><tspan x="1830.8" dy="15.6">?(以下简称?总体规划?)。</tspan></text><line class="u" x1="1823.6" y1="2681.2" x2="2081.4" y2="2681.2"/></g>
<g id="n7b2"><text x="1830.8" y="2727.3"><tspan x="1830.8">这个?总体规划?贯彻了一九八三年?_中央、_</tspan><tspan x="1830.8" dy="15.6">关于对〖北京城市建设总体规划方案〗的批复</tspan><tspan x="1830.8" dy="15.6">?([1983]29号)的基本思路，符合党的十四大</tspan><tspan x="1830.8" dy="15.6">精神和北京市的具体情况，对首都今后的建设</tspan><tspan x="1830.8" dy="15.6">和发展具有指导作用，望认真组织实施。</tspan></text><line class="u" x1="1823.6" y1="2798.4" x2="2081.4" y2="2798.4"/></g>
<g id="n7b3"><text x="1830.8" y="2844">_年_月_日</text><line class="u" x1="1823.6" y1="2852.7" x2="1895.6" y2="2852.7"/></g>
<g id="n7b4"><text x="1830.8" y="2898.3">主题词：__ __ _</text><line class="u" x1="1823.6" y1="2907" x2="1937" y2="2907"/></g>
<g id="n7b5"><text x="1830.8" y="2952.1">抄送：______，______，____</text><line class="u" x1="1823.6" y1="2960.8" x2="2013.7" y2="2960.8"/></g>
<g id="n7b6"><text x="1830.8" y="3006">__。</text><line class="u" x1="1823.6" y1="3014.7" x2="1865.6" y2="3014.7"/></g>

<!-- 第9篇 -->
<g id="n9a"><text class="cb" x="1697.7" y="3060.3">[格式内容]</text><line class="u" x1="1691.7" y1="3069" x2="1762" y2="3069"/></g>
<g id="n9b"><text class="cb" x="1697.7" y="3114.6">1.标题。一般写成"关于xxx的批复"。</text><line class="u" x1="1691.7" y1="3123.3" x2="1902.8" y2="3123.3"/></g>
<g id="n9c"><text class="cb" x="1697.7" y="3168.3">2.原由。一般写成 "xx[xx]xx号文收悉"。</text><line class="u" x1="1691.7" y1="3177" x2="1923.7" y2="3177"/></g>
<g id="n9d"><text class="cb" x="1697.7" y="3222.3">3.批复事项。</text><line class="u" x1="1691.7" y1="3231" x2="1775.7" y2="3231"/></g>
<g id="n9e"><text class="cb" x="1697.7" y="3559.1">4.落款。</text><line class="u" x1="1691.7" y1="3567.8" x2="1750" y2="3567.8"/></g>
<g id="n9e1"><text class="cb" x="1779.9" y="3277">[范例参考]</text><line class="u" x1="1773.9" y1="3285.7" x2="1842.8" y2="3285.7"/></g>
<g id="n9e2"><text class="cb" x="1779.9" y="3331.2"><tspan x="1779.9">中中国证券监督管理委员会关于xx新华期货</tspan><tspan x="1779.9" dy="15.6">经纪有限公司的批复</tspan></text><line class="u" x1="1773.9" y1="3355.5" x2="2030.5" y2="3355.5"/></g>
<g id="n9e3"><text class="cb" x="1779.9" y="3400.7">证监期审字 [1995]25号</text><line class="u" x1="1773.9" y1="3409.4" x2="1913.5" y2="3409.4"/></g>
<g id="n9e4"><text class="cb" x="1779.9" y="3455">xx新华期货经纪有限公司:</text><line class="u" x1="1773.9" y1="3463.7" x2="1923.7" y2="3463.7"/></g>
<g id="n9e5"><text class="cb" x="1779.9" y="3508.7"><tspan x="1779.9">经审核，你公司符合期货经纪公司的标准，请</tspan><tspan x="1779.9" dy="15.6">持本批复到中国家工商局申请注册</tspan></text><line class="u" x1="1773.9" y1="3533" x2="2030.5" y2="3533"/></g>
<g id="n9e6"><text class="cb" x="1779.9" y="3579"><tspan x="1779.9">登记，经营范围为:中国内期货经纪业务，期</tspan><tspan x="1779.9" dy="15.6">货投资、信息咨询服务业务、期货从业人</tspan></text><line class="u" x1="1773.9" y1="3603.3" x2="2030.5" y2="3603.3"/></g>
<g id="n9e7"><text class="cb" x="1779.9" y="3649.2"><tspan x="1779.9">员培训业务。在完成该哦尼斯注册登记手续后</tspan><tspan x="1779.9" dy="15.6">，请持营业执照副本原件及复印件、</tspan></text><line class="u" x1="1773.9" y1="3673.5" x2="2030.5" y2="3673.5"/></g>
<g id="n9e8"><text class="cb" x="1779.9" y="3718.6"><tspan x="1779.9">法人授权委托书和领取人身份证原件及复印件</tspan><tspan x="1779.9" dy="15.6">到我会领取《期货经纪业务许可证》</tspan></text><line class="u" x1="1773.9" y1="3742.9" x2="2030.5" y2="3742.9"/></g>
<g id="n9e9"><text class="cb" x="1779.9" y="3788.3">XX年3月3日</text><line class="u" x1="1773.9" y1="3797" x2="1851.8" y2="3797"/></g>
<g id="n9e10"><text class="cb" x="1782" y="3842.7">【批复公文格式范文】</text><line class="u" x1="1773.9" y1="3851.4" x2="1907.5" y2="3851.4"/></g>

<g id="watermarks">
<text class="wm" text-anchor="middle" transform="translate(646 540) rotate(-30)">树图<tspan class="e"> shutu.cn</tspan></text>
<text class="wm" text-anchor="middle" transform="translate(1925 535) rotate(-30)">树图<tspan class="e"> shutu.cn</tspan></text>
<text class="wm" text-anchor="middle" transform="translate(646 1545) rotate(-30)">树图<tspan class="e"> shutu.cn</tspan></text>
<text class="wm" text-anchor="middle" transform="translate(1925 1545) rotate(-30)">树图<tspan class="e"> shutu.cn</tspan></text>
<text class="wm" text-anchor="middle" transform="translate(646 2545) rotate(-30)">树图<tspan class="e"> shutu.cn</tspan></text>
<text class="wm" text-anchor="middle" transform="translate(1925 2545) rotate(-30)">树图<tspan class="e"> shutu.cn</tspan></text>
<text class="wm" text-anchor="middle" transform="translate(646 3540) rotate(-30)">树图<tspan class="e"> shutu.cn</tspan></text>
<text class="wm" text-anchor="middle" transform="translate(1925 3535) rotate(-30)">树图<tspan class="e"> shutu.cn</tspan></text>
</g>
</g>
</svg>
